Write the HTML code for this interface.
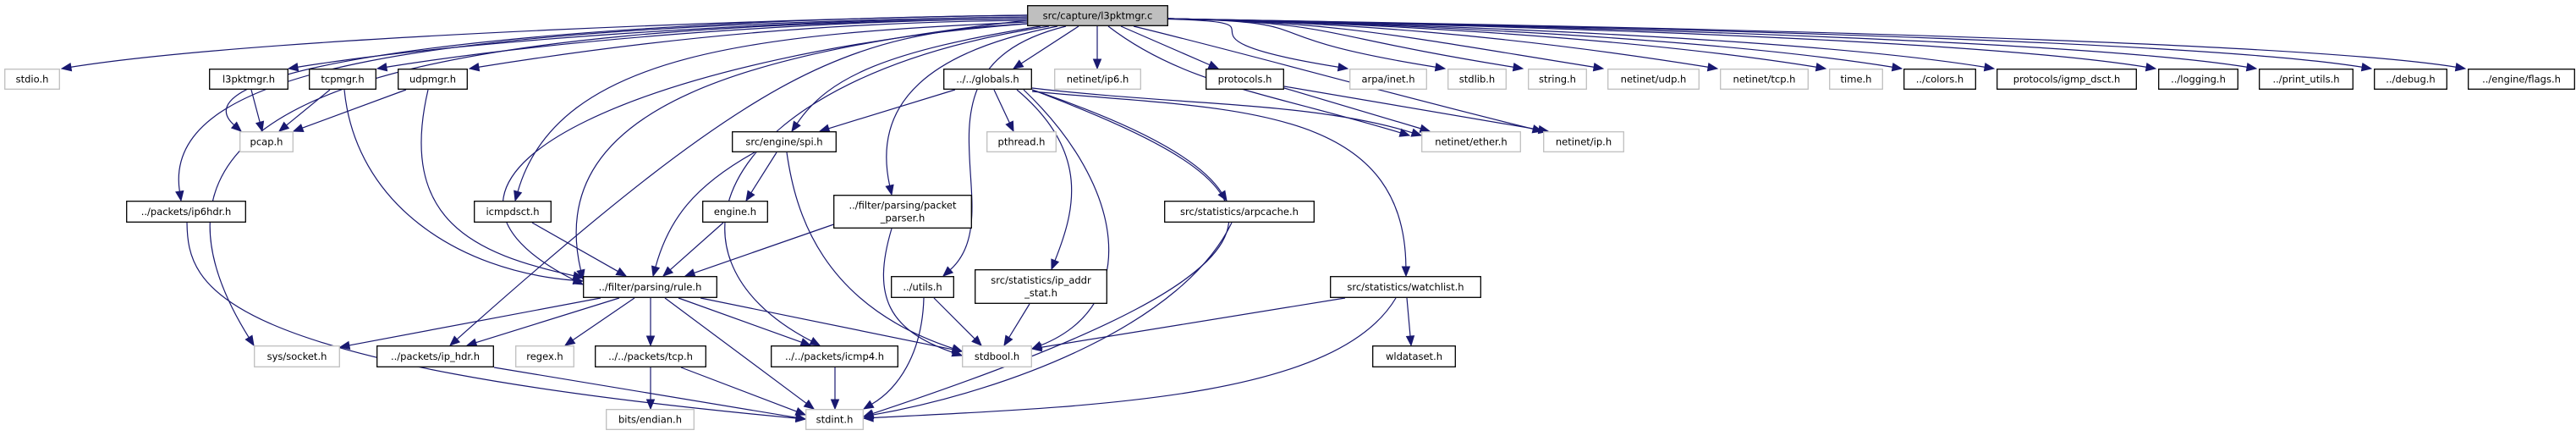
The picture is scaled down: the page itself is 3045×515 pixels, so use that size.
<!DOCTYPE html>
<html><head><meta charset="utf-8"><style>
html,body{margin:0;padding:0;background:#fff;}
svg{display:block;}
text{font-family:"DejaVu Sans","Liberation Sans",sans-serif;font-size:11.5px;fill:#000;}
</style></head><body>
<svg id="g" width="3045" height="515" viewBox="0 0 3045 515" xmlns="http://www.w3.org/2000/svg">
<g id="edges" fill="none" stroke="#191970" stroke-width="1.2"></g>
<g id="arrows" fill="#191970" stroke="#191970"></g>
<g id="nodes"></g>
</svg>
<script>
var NS="http://www.w3.org/2000/svg";
function el(t,a,p){var e=document.createElementNS(NS,t);for(var k in a)e.setAttribute(k,a[k]);p.appendChild(e);return e;}
var nodes=[
["src/capture/l3pktmgr.c",1214,6,1381,31,"r"],
["stdio.h",5,81,71,106,"g"],
["l3pktmgr.h",247,81,341,106,"b"],
["tcpmgr.h",365,81,445,106,"b"],
["udpmgr.h",470,81,553,106,"b"],
["pcap.h",283,155,347,180,"g"],
["src/engine/spi.h",865,155,989,180,"b"],
["../packets/ip6hdr.h",149,237,291,263,"b"],
["icmpdsct.h",560,237,652,263,"b"],
["engine.h",830,237,908,263,"b"],
["../filter/parsing/rule.h",689,326,848,352,"b"],
["sys/socket.h",300,408,402,434,"g"],
["../packets/ip_hdr.h",445,408,584,434,"b"],
["regex.h",609,408,679,434,"g"],
["../../packets/tcp.h",703,408,835,434,"b"],
["../../packets/icmp4.h",911,408,1062,434,"b"],
["bits/endian.h",716,483,821,508,"g"],
["stdint.h",952,483,1021,508,"g"],
["../../globals.h",1115,81,1220,106,"b"],
["netinet/ip6.h",1246,81,1349,106,"g"],
["protocols.h",1425,81,1518,106,"b"],
["arpa/inet.h",1595,81,1687,106,"g"],
["stdlib.h",1711,81,1781,106,"g"],
["string.h",1806,81,1876,106,"g"],
["netinet/udp.h",1900,81,2009,106,"g"],
["pthread.h",1166,155,1249,180,"g"],
["netinet/ether.h",1680,155,1798,180,"g"],
["netinet/ip.h",1824,155,1920,180,"g"],
["../filter/parsing/packet|_parser.h",985,230,1149,270,"b"],
["src/statistics/arpcache.h",1376,237,1554,263,"b"],
["../utils.h",1053,326,1128,352,"b"],
["src/statistics/ip_addr|_stat.h",1152,318,1309,359,"b"],
["src/statistics/watchlist.h",1572,326,1751,352,"b"],
["stdbool.h",1137,408,1220,434,"g"],
["wldataset.h",1622,408,1721,434,"b"],
["netinet/tcp.h",2033,81,2138,106,"g"],
["time.h",2162,81,2226,106,"g"],
["../colors.h",2250,81,2336,106,"b"],
["protocols/igmp_dsct.h",2360,81,2526,106,"b"],
["../logging.h",2551,81,2646,106,"b"],
["../print_utils.h",2670,81,2782,106,"b"],
["../debug.h",2806,81,2893,106,"b"],
["../engine/flags.h",2917,81,3044,106,"b"]
];
var NG=document.getElementById("nodes");
nodes.forEach(function(n){
  var fill=n[5]=="r"?"#bfbfbf":"#fff", st=n[5]=="g"?"#bfbfbf":"#000";
  el("rect",{x:n[1]+.7,y:n[2]+.7,width:n[3]-n[1]-1.4,height:n[4]-n[2]-1.4,fill:fill,stroke:st,"stroke-width":1.3},NG);
  var lines=n[0].split("|"),cx=(n[1]+n[3])/2,cy=(n[2]+n[4])/2;
  lines.forEach(function(l,i){
    var t=el("text",{x:cx,y:cy+4+(i-(lines.length-1)/2)*15,"text-anchor":"middle"},NG);t.textContent=l;
  });
});
var EG=document.getElementById("edges"),AG=document.getElementById("arrows");
function E(x1,y1,x2,y2,c){
  var c1x,c1y,c2x,c2y;
  if(c){c1x=c[0];c1y=c[1];c2x=c[2];c2y=c[3];}else{c1x=x1+(x2-x1)/3;c1y=y1+(y2-y1)/3;c2x=x1+2*(x2-x1)/3;c2y=y1+2*(y2-y1)/3;}
  var dx=x2-c2x,dy=y2-c2y,L=Math.sqrt(dx*dx+dy*dy)||1;dx/=L;dy/=L;
  var bx=x2-dx*11,by=y2-dy*11;
  el("path",{d:"M"+x1+","+y1+" C"+c1x+","+c1y+" "+(c2x)+","+(c2y)+" "+bx+","+by},EG);
  var px=-dy*4.5,py=dx*4.5;
  el("polygon",{points:x2+","+y2+" "+(bx+px)+","+(by+py)+" "+(bx-px)+","+(by-py)},AG);
}
function RL(tx,ty,sy){E(1214,sy,tx,ty,[1000,sy+2,tx+250,ty-40]);}
RL(73,81,18);RL(341,81,20);RL(446,81,22);RL(555,81,24);
function RR(sx,tx,ty){E(sx,22,tx,ty,[sx+200,26,tx-250,ty-40]);}
RR(1360,1593,81);RR(1381,1708,81);RR(1381,1800,81);RR(1381,1895,81);
RR(1381,2030,81);RR(1381,2158,81);RR(1381,2248,81);RR(1381,2357,81);
RR(1381,2548,81);RR(1381,2667,81);RR(1381,2803,81);RR(1381,2914,81);
E(1275,31,1198,81);E(1297,31,1297,81);E(1325,31,1440,81);
E(1214,18,285,155,[600,25,200,80]);
E(1214,20,214,237,[500,30,190,80]);
E(1214,22,300,408,[500,30,108,100]);
E(1214,28,689,336,[800,60,420,200]);
E(1214,24,689,330,[900,60,640,120]);
E(1214,26,609,237,[900,40,660,60]);
E(1214,28,532,408,[1000,40,900,80]);
E(1230,31,936,155,[1050,60,980,90]);
E(1240,31,969,408,[850,90,760,300]);
E(1250,31,1054,230,[1100,60,1030,120]);
E(1260,31,1115,326,[1060,80,1200,250]);
E(1310,31,1666,160,[1400,100,1500,110]);
E(1340,31,1823,155,[1500,70,1600,100]);
E(297,106,310,155);E(390,106,330,155);E(480,106,347,155);
E(407,106,689,332,[420,240,540,320]);
E(506,106,689,328,[470,260,560,300]);
E(221,263,952,495,[222,340,250,430]);
E(629,263,740,326);E(892,180,772,326,[820,220,790,260]);
E(918,180,882,237);E(930,180,1137,415,[940,250,970,360]);
E(855,263,784,326);E(1000,260,810,326);
E(1054,270,1137,420,[1030,350,1050,390]);
E(710,352,402,410);E(732,352,552,408);E(750,352,668,408);E(769,352,769,408);
E(802,352,958,408);E(786,352,962,483);E(828,352,1137,415);
E(769,434,769,483);E(805,434,952,490);E(584,434,952,495);E(987,434,987,483);
E(1129,106,969,155);E(1175,106,1198,155);
E(1202,106,1243,318,[1290,180,1270,250]);
E(1210,106,1220,412,[1330,220,1350,360]);
E(1220,106,1450,237,[1350,150,1420,190]);
E(1220,106,1021,492,[1520,220,1600,300]);
E(1220,108,1662,326,[1450,130,1660,120]);
E(1220,104,1680,160,[1400,125,1550,120]);
E(1104,352,1160,408);E(1092,352,1021,483,[1090,420,1060,460]);
E(1217,359,1187,408);E(1456,263,1021,492,[1400,380,1200,460]);
E(1590,352,1220,412);E(1663,352,1668,408);
E(1650,352,1021,494,[1580,470,1300,480]);
E(1518,104,1690,155);E(1518,102,1830,155);
</script>
</body></html>
